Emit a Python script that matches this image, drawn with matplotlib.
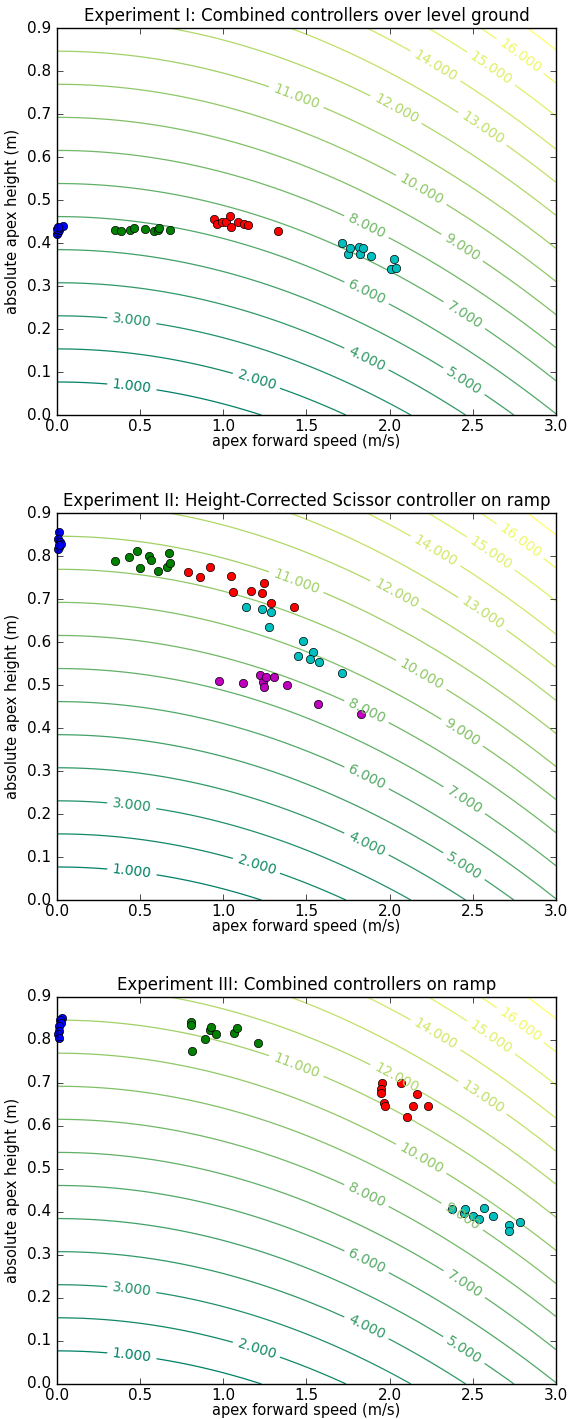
import matplotlib
matplotlib.use('Agg')
import matplotlib.pyplot as plt
import numpy as np

# energy-like contour: E = M * (G*h + v^2/2)
M, G = 1.325, 9.81
LEVELS = np.arange(1, 18)
CLABEL_POS = [(0.45, 0.064), (1.20, 0.081), (0.45, 0.22), (1.86, 0.13), (2.45, 0.081),
              (1.86, 0.283), (2.45, 0.233), (1.86, 0.438), (2.44, 0.392), (2.19, 0.524),
              (1.44, 0.741), (2.04, 0.712), (2.56, 0.667), (2.28, 0.815), (2.61, 0.807),
              (2.79, 0.838)]

TITLES = ['Experiment I: Combined controllers over level ground',
          'Experiment II: Height-Corrected Scissor controller on ramp',
          'Experiment III: Combined controllers on ramp']

# ---- Experiment I ----
e1_blue_v = [0.00, 0.005, 0.01, 0.015, 0.035, 0.00, 0.005]
e1_blue_h = [0.420, 0.425, 0.430, 0.435, 0.440, 0.432, 0.438]
e1_green_v = [0.350, 0.385, 0.438, 0.466, 0.528, 0.583, 0.605, 0.614, 0.680]
e1_green_h = [0.431, 0.427, 0.431, 0.434, 0.432, 0.427, 0.431, 0.435, 0.431]
e1_red_v = [0.946, 0.965, 0.990, 1.014, 1.042, 1.049, 1.086, 1.122, 1.150, 1.328]
e1_red_h = [0.455, 0.445, 0.448, 0.450, 0.463, 0.438, 0.450, 0.445, 0.442, 0.429]
e1_cyan_v = [1.713, 1.748, 1.764, 1.814, 1.819, 1.841, 1.885, 2.010, 2.028, 2.039]
e1_cyan_h = [0.400, 0.374, 0.388, 0.390, 0.374, 0.388, 0.369, 0.339, 0.363, 0.341]

# ---- Experiment II ----
e2_blue_v = [0.01, 0.005, 0.02, 0.025, 0.01, 0.005, 0.015]
e2_blue_h = [0.855, 0.840, 0.832, 0.828, 0.822, 0.816, 0.825]
e2_green_v = [0.350, 0.435, 0.484, 0.499, 0.556, 0.565, 0.605, 0.664, 0.675, 0.680]
e2_green_h = [0.788, 0.799, 0.812, 0.773, 0.801, 0.791, 0.766, 0.775, 0.808, 0.784]
e2_red_v = [0.785, 0.858, 0.917, 1.045, 1.060, 1.168, 1.232, 1.245, 1.289, 1.427]
e2_red_h = [0.764, 0.752, 0.775, 0.754, 0.717, 0.719, 0.715, 0.737, 0.691, 0.681]
e2_cyan_v = [1.139, 1.232, 1.289, 1.273, 1.480, 1.452, 1.540, 1.524, 1.577, 1.713]
e2_cyan_h = [0.681, 0.678, 0.670, 0.634, 0.602, 0.567, 0.578, 0.561, 0.553, 0.527]
e2_mag_v = [0.974, 1.119, 1.221, 1.238, 1.256, 1.243, 1.302, 1.381, 1.570, 1.825]
e2_mag_h = [0.510, 0.506, 0.523, 0.508, 0.519, 0.495, 0.518, 0.500, 0.455, 0.432]

# ---- Experiment III ----
e3_blue_v = [0.03, 0.02, 0.025, 0.015, 0.01, 0.005, 0.01]
e3_blue_h = [0.852, 0.847, 0.840, 0.833, 0.822, 0.815, 0.805]
e3_green_v = [0.805, 0.807, 0.809, 0.891, 0.917, 0.924, 0.957, 1.064, 1.082, 1.207]
e3_green_h = [0.842, 0.835, 0.775, 0.803, 0.824, 0.831, 0.814, 0.816, 0.827, 0.793]
e3_red_v = [1.957, 1.946, 1.946, 2.067, 1.968, 1.970, 2.164, 2.142, 2.232, 2.105]
e3_red_h = [0.700, 0.686, 0.676, 0.700, 0.653, 0.647, 0.674, 0.646, 0.647, 0.622]
e3_cyan_v = [2.377, 2.445, 2.456, 2.504, 2.539, 2.570, 2.621, 2.716, 2.720, 2.784]
e3_cyan_h = [0.406, 0.398, 0.408, 0.390, 0.383, 0.410, 0.390, 0.370, 0.355, 0.377]

experiments = [
    [(e1_blue_v, e1_blue_h, 'b'), (e1_green_v, e1_green_h, 'g'),
     (e1_red_v, e1_red_h, 'r'), (e1_cyan_v, e1_cyan_h, 'c')],
    [(e2_blue_v, e2_blue_h, 'b'), (e2_green_v, e2_green_h, 'g'),
     (e2_red_v, e2_red_h, 'r'), (e2_cyan_v, e2_cyan_h, 'c'),
     (e2_mag_v, e2_mag_h, 'm')],
    [(e3_blue_v, e3_blue_h, 'b'), (e3_green_v, e3_green_h, 'g'),
     (e3_red_v, e3_red_h, 'r'), (e3_cyan_v, e3_cyan_h, 'c')],
]

plt.style.use('classic')
fig = plt.figure(figsize=(5.75, 14.19), dpi=100, facecolor='white')

v = np.linspace(0, 3, 300)
h = np.linspace(0, 0.9, 300)
V, H = np.meshgrid(v, h)
E = M * (G * H + 0.5 * V**2)

bottoms = [0.7075, 0.3657, 0.0247]
for i, (title, groups) in enumerate(zip(TITLES, experiments)):
    ax = fig.add_axes([0.0991, bottoms[i], 0.8678, 0.2727])
    cs = ax.contour(V, H, E, levels=LEVELS, cmap='summer', linewidths=0.9)
    ax.clabel(cs, cs.levels[:16], inline=True, fmt='%.3f', fontsize=10,
              manual=CLABEL_POS)
    for gv, gh, c in groups:
        ax.plot(gv, gh, 'o', color=c, mec='k', mew=0.5, ms=6, clip_on=False)
    ax.set_xlim(0, 3)
    ax.set_ylim(0, 0.9)
    ax.set_title(title, fontsize=12)
    ax.set_xlabel('apex forward speed (m/s)', fontsize=10.5, labelpad=0)
    ax.set_ylabel('absolute apex height (m)', fontsize=10.5)
    ax.tick_params(labelsize=11)
    ax.tick_params(axis='x', pad=3)

fig.savefig('out.png', dpi=100, facecolor='white')
